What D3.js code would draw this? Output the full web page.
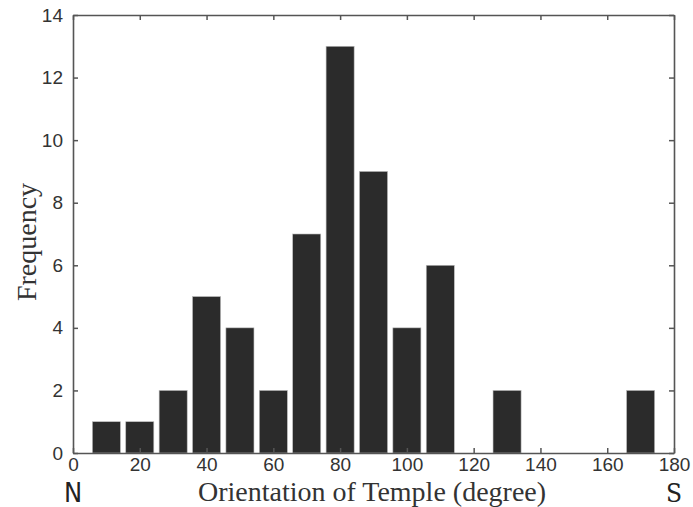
<!DOCTYPE html>
<html><head><meta charset="utf-8">
<script src="https://cdn.jsdelivr.net/npm/d3@7"></script>
<style>body{margin:0;background:#fff}svg{display:block}</style>
</head><body>
<script>
const binCenters = [10,20,30,40,50,60,70,80,90,100,110,120,130,140,150,160,170];
const frequencies = [1,1,2,5,4,2,7,13,9,4,6,0,2,0,0,0,2];
const xTicks = [0,20,40,60,80,100,120,140,160,180];
const yTicks = [0,2,4,6,8,10,12,14];

const W=693,H=507;
const m={l:73,r:19,t:15,b:54};
const svg=d3.select("body").append("svg").attr("width",W).attr("height",H);
const x=d3.scaleLinear().domain([0,180]).range([m.l,W-m.r]);
const y=d3.scaleLinear().domain([0,14]).range([H-m.b,m.t]);
const bw = x(8.4)-x(0);

svg.append("g").selectAll("rect").data(binCenters.map((c,i)=>({c,v:frequencies[i]})).filter(d=>d.v>0))
  .join("rect")
  .attr("x",d=>x(d.c)-bw/2).attr("width",bw)
  .attr("y",d=>y(d.v)).attr("height",d=>y(0)-y(d.v))
  .attr("fill","#2b2b2b").attr("stroke","#bbb").attr("stroke-width",0.6);

const axisColor="#555";
const tickFont="'Liberation Sans', Arial, sans-serif";
const gx=svg.append("g").attr("transform",`translate(0,${y(0)})`)
  .call(d3.axisBottom(x).tickValues(xTicks).tickSizeInner(-5).tickSizeOuter(0).tickPadding(6.5));
const gxt=svg.append("g").attr("transform",`translate(0,${y(14)})`)
  .call(d3.axisTop(x).tickValues(xTicks).tickSizeInner(-5).tickSizeOuter(0).tickFormat(""));
const gy=svg.append("g").attr("transform",`translate(${x(0)},0)`)
  .call(d3.axisLeft(y).tickValues(yTicks).tickSizeInner(-5).tickSizeOuter(0).tickPadding(10));
const gyr=svg.append("g").attr("transform",`translate(${x(180)},0)`)
  .call(d3.axisRight(y).tickValues(yTicks).tickSizeInner(-5).tickSizeOuter(0).tickFormat(""));
[gx,gxt,gy,gyr].forEach(g=>{
  g.selectAll("path").attr("stroke",axisColor).attr("stroke-width",1.6);
  g.selectAll("line").attr("stroke",axisColor).attr("stroke-width",1.5);
  g.selectAll("text").attr("fill","#333").style("font-family",tickFont).style("font-size","19px");
});
gx.selectAll("text").attr("dy","0.6em");

svg.append("text").attr("x",372).attr("y",H-6)
  .attr("text-anchor","middle").attr("fill","#333")
  .style("font-family","'Liberation Serif','Times New Roman',serif").style("font-size","28px")
  .text("Orientation of Temple (degree)");
svg.append("text").attr("transform",`translate(36,${242}) rotate(-90)`)
  .attr("text-anchor","middle").attr("fill","#333")
  .style("font-family","'Liberation Serif','Times New Roman',serif").style("font-size","28px")
  .text("Frequency");
svg.append("text").attr("x",x(0)).attr("y",H-5).attr("text-anchor","middle").attr("fill","#222")
  .style("font-family","'Liberation Sans Narrow','DejaVu Sans Condensed',sans-serif").style("font-size","27px")
  .text("N");
svg.append("text").attr("x",x(180)).attr("y",H-5).attr("text-anchor","middle").attr("fill","#222")
  .style("font-family","'DejaVu Serif Condensed','Liberation Serif',serif").style("font-size","26px")
  .text("S");
</script>
</body></html>
